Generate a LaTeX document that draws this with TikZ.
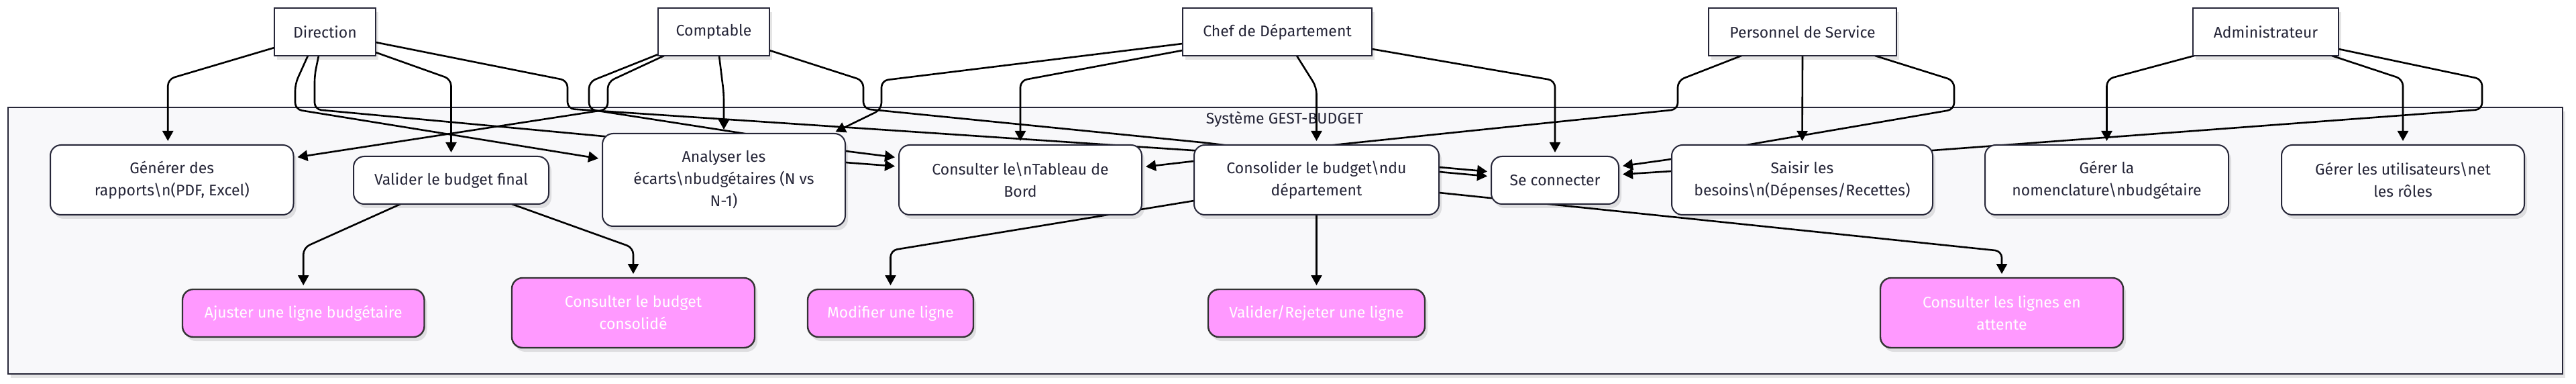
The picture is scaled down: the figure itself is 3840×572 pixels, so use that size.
\documentclass[tikz,border=0pt]{standalone}
\usepackage{fontspec}
\setmainfont{Fira Sans}
\usetikzlibrary{arrows.meta,shadows}
\definecolor{ink}{RGB}{38,38,56}
\definecolor{clusterfill}{RGB}{248,248,250}
\definecolor{pinkfill}{RGB}{255,153,255}
\definecolor{pinkline}{RGB}{51,51,51}
\pgfdeclarelayer{back}
\pgfdeclarelayer{edgelayer}
\pgfsetlayers{back,edgelayer,main}
\begin{document}
\begin{tikzpicture}[x=0.5pt,y=-0.5pt,
  every node/.style={font=\fontsize{11.5}{16.5}\selectfont, outer sep=0pt, inner sep=0pt, align=center},
  softshadow/.style={drop shadow={shadow xshift=2pt, shadow yshift=-3pt, opacity=0.10, fill=black}},
  actor/.style={draw=ink, line width=1pt, fill=white, text=ink, minimum height=35.5pt, softshadow},
  usecase/.style={draw=ink, line width=1pt, fill=white, text=ink, rounded corners=8pt, softshadow},
  pinkcase/.style={draw=pinkline, line width=1.2pt, fill=pinkfill, text=white, rounded corners=8pt, softshadow},
  link/.style={draw=black, line width=1.3pt, rounded corners=5pt, -{Triangle[length=7.5pt,width=8pt]}, shorten >=3pt},
]
\useasboundingbox (0,0) rectangle (3840,572);

% actors
\node[actor, minimum width=75.5pt] (dir) at (484.5,47.5) {Direction};
\node[actor, minimum width=83pt] (cpt) at (1064,47.5) {Comptable};
\node[actor, minimum width=141pt] (chef) at (1904,47.5) {Chef de Département};
\node[actor, minimum width=140pt] (pers) at (2687,47.5) {Personnel de Service};
\node[actor, minimum width=108.5pt] (admin) at (3377.5,47.5) {Administrateur};

% use cases
\node[usecase, minimum width=181.25pt, minimum height=52pt] (gen) at (256.25,268) {Générer des\\rapports\textbackslash n(PDF, Excel)};
\node[usecase, minimum width=145.5pt, minimum height=35.5pt] (val) at (672.5,268.5) {Valider le budget final};
\node[usecase, minimum width=181pt, minimum height=69pt] (ana) at (1079,268) {Analyser les\\écarts\textbackslash nbudgétaires (N vs\\N-1)};
\node[usecase, minimum width=181pt, minimum height=52pt] (tab) at (1521,268) {Consulter le\textbackslash nTableau de\\Bord};
\node[usecase, minimum width=182.5pt, minimum height=52pt] (cons) at (1962.5,268) {Consolider le budget\textbackslash ndu\\département};
\node[usecase, minimum width=95pt, minimum height=35.5pt] (conn) at (2318,268.5) {Se connecter};
\node[usecase, minimum width=194.5pt, minimum height=52pt] (sais) at (2686.5,268) {Saisir les\\besoins\textbackslash n(Dépenses/Recettes)};
\node[usecase, minimum width=181.5pt, minimum height=52pt] (nom) at (3140.5,268) {Gérer la\\nomenclature\textbackslash nbudgétaire};
\node[usecase, minimum width=181pt, minimum height=52pt] (usr) at (3582,268) {Gérer les utilisateurs\textbackslash net\\les rôles};

% pink cases
\node[pinkcase, minimum width=180.25pt, minimum height=35.5pt] (aju) at (452.25,466.5) {Ajuster une ligne budgétaire};
\node[pinkcase, minimum width=181pt, minimum height=52pt] (cbc) at (944,466) {Consulter le budget\\consolidé};
\node[pinkcase, minimum width=123.5pt, minimum height=35.5pt] (mod) at (1327.5,466.5) {Modifier une ligne};
\node[pinkcase, minimum width=161.5pt, minimum height=35.5pt] (vr) at (1962.5,466.5) {Valider/Rejeter une ligne};
\node[pinkcase, minimum width=181pt, minimum height=52pt] (cla) at (2984,466) {Consulter les lignes en\\attente};

% cluster
\begin{pgfonlayer}{back}
\draw[draw=ink, line width=1pt, fill=clusterfill, softshadow] (11.5,160) rectangle (3820,557);
\node[text=ink] (clabel) at (1915,178) {Système GEST-BUDGET};
\end{pgfonlayer}

\begin{pgfonlayer}{edgelayer}
% Direction
\draw[link] ([yshift=-11.75pt]dir.west) -- (250.25,118) -- ([xshift=-3pt]gen.north);
\draw[link] ([yshift=-15.25pt]dir.east) -- (672.5,118) -- (val.north);
\draw[link] ([xshift=-12.75pt]dir.south) -- (440,125) -- (440,163) -- ([yshift=15.5pt]ana.west);
\draw[link] ([xshift=-4.75pt]dir.south) -- (469,112) -- (469,163) -- (900,203) -- (1260,242) -- ([yshift=10pt]tab.west);
\draw[link] ([yshift=-7.75pt]dir.east) -- (846,120) -- (846,162) -- (1778,224) -- (2145,249) -- ([yshift=6.25pt]conn.west);
% Comptable
\draw[link] ([xshift=-37pt]cpt.south) -- (906,122) -- (906,163) -- ([yshift=16.5pt]gen.east);
\draw[link] ([yshift=-16.75pt]cpt.west) -- (878,122) -- (878,163) -- (1110,199) -- (1260,225) -- ([yshift=16.5pt]tab.west);
\draw[link] ([xshift=4pt]cpt.south) -- (1079,140) -- (ana.north);
\draw[link] ([yshift=-13.75pt]cpt.east) -- (1287,120) -- (1287,162) -- (1800,213) -- (2145,256) -- ([yshift=2.75pt]conn.west);
% Chef
\draw[link] ([yshift=-8.75pt]chef.west) -- (1314,120) -- (1314,163) -- ([xshift=-10pt]ana.north east);
\draw[link] ([yshift=-13.75pt]chef.west) -- (1521,120) -- (tab.north);
\draw[link] ([xshift=14.5pt]chef.south) -- (1962.5,130) -- (cons.north);
\draw[link] ([yshift=-12.75pt]chef.east) -- (2318,120) -- (conn.north);
% Personnel
\draw[link] ([xshift=-45.5pt]pers.south) -- (2501,120) -- (2501,163) -- (1997,215) -- (1780,240) -- ([yshift=9.5pt]tab.east);
\draw[link] (pers.south) -- (sais.north);
\draw[link] ([xshift=54pt]pers.south) -- (2913,120) -- (2913,163) -- (2609,215) -- (2492,237) -- ([yshift=10.25pt]conn.east);
% Administrateur
\draw[link] ([xshift=1pt]admin.south west) -- (3140.5,118) -- (nom.north);
\draw[link] ([xshift=49.25pt]admin.south) -- (3582,118) -- (usr.north);
\draw[link] ([yshift=-12.75pt]admin.east) -- (3700,118) -- (3700,163) -- (2881,224) -- (2492,255) -- ([yshift=4.25pt]conn.east);
% lower level
\draw[link] ([xshift=-37.75pt]val.south) -- (452.25,369) -- (aju.north);
\draw[link] ([xshift=45.25pt]val.south) -- (944,369) -- (cbc.north);
\draw[link] ([yshift=-15.5pt]cons.west) -- (1327.5,373) -- (mod.north);
\draw[link] (cons.south) -- (vr.north);
\draw[link] ([yshift=-9.5pt]cons.east) -- (2984,374) -- (cla.north);
\end{pgfonlayer}
\end{tikzpicture}
\end{document}
